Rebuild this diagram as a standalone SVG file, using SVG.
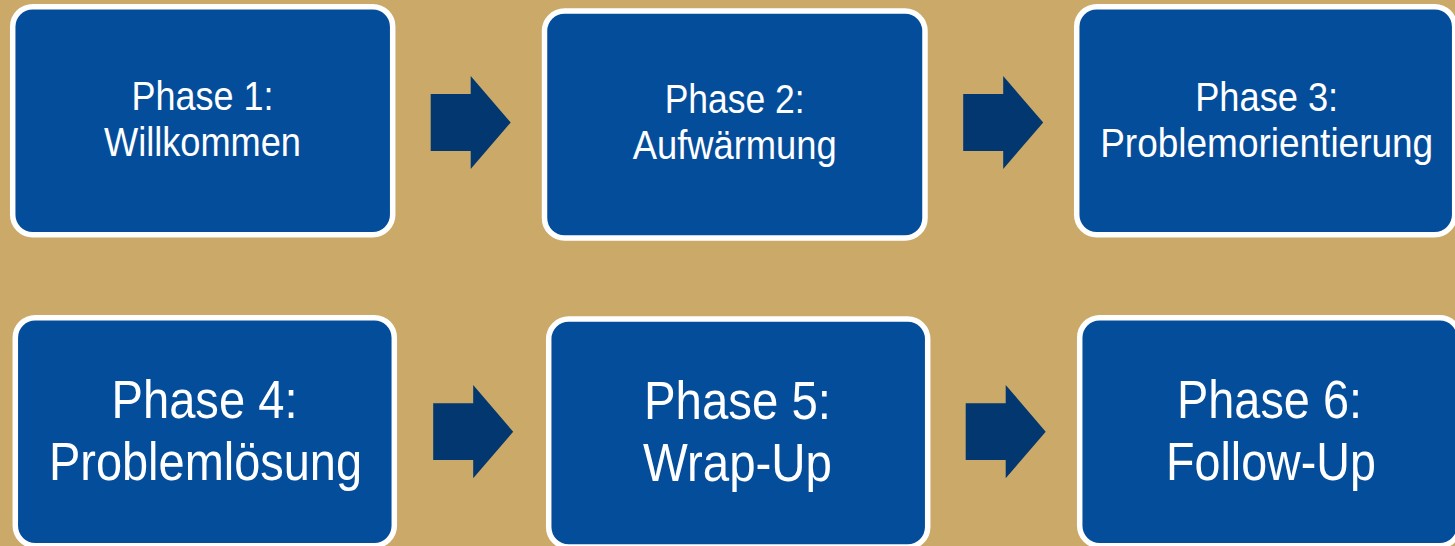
<svg xmlns="http://www.w3.org/2000/svg" width="1455" height="546" viewBox="0 0 1455 546">
<style>
.box{fill:#044D9B;stroke:#FFFFFF;stroke-width:5.5}
.t1{font-family:"Liberation Sans",Arial,sans-serif;font-size:41px;fill:#FFFFFF;text-anchor:middle}
.t2{font-family:"Liberation Sans",Arial,sans-serif;font-size:53px;fill:#FFFFFF;text-anchor:middle}
.arr{fill:#02376F}
</style>
<rect x="0" y="0" width="1455" height="546" fill="#CBA968"/>
<g id="phase1">
<rect class="box" x="12.7" y="6.7" width="380" height="228" rx="20"/>
<text class="t1" x="202.5" y="110" textLength="142" lengthAdjust="spacingAndGlyphs">Phase 1:</text>
<text class="t1" x="202.5" y="156" textLength="197" lengthAdjust="spacingAndGlyphs">Willkommen</text>
</g>
<g id="phase2">
<rect class="box" x="544.5" y="11" width="380.5" height="227" rx="20"/>
<text class="t1" x="734.7" y="113" textLength="140" lengthAdjust="spacingAndGlyphs">Phase 2:</text>
<text class="t1" x="734.7" y="159" textLength="204" lengthAdjust="spacingAndGlyphs">Aufwärmung</text>
</g>
<g id="phase3">
<rect class="box" x="1076.7" y="6.7" width="378" height="228" rx="20"/>
<text class="t1" x="1266.7" y="110.5" textLength="143" lengthAdjust="spacingAndGlyphs">Phase 3:</text>
<text class="t1" x="1266.7" y="157" textLength="333" lengthAdjust="spacingAndGlyphs">Problemorientierung</text>
</g>
<g id="phase4">
<rect class="box" x="15.3" y="317.7" width="379" height="228" rx="20"/>
<text class="t2" x="204.5" y="418" textLength="186" lengthAdjust="spacingAndGlyphs">Phase 4:</text>
<text class="t2" x="205.5" y="480" textLength="313" lengthAdjust="spacingAndGlyphs">Problemlösung</text>
</g>
<g id="phase5">
<rect class="box" x="548.7" y="319" width="379" height="228" rx="20"/>
<text class="t2" x="737.5" y="419" textLength="187" lengthAdjust="spacingAndGlyphs">Phase 5:</text>
<text class="t2" x="737.5" y="481" textLength="189" lengthAdjust="spacingAndGlyphs">Wrap-Up</text>
</g>
<g id="phase6">
<rect class="box" x="1079.7" y="317.7" width="380" height="228" rx="20"/>
<text class="t2" x="1269.5" y="418" textLength="185" lengthAdjust="spacingAndGlyphs">Phase 6:</text>
<text class="t2" x="1271" y="480" textLength="210" lengthAdjust="spacingAndGlyphs">Follow-Up</text>
</g>
<g id="connectors">
<polygon class="arr" points="430.7,94 470.7,94 470.7,76 510.7,122.5 470.7,169 470.7,151 430.7,151"/>
<polygon class="arr" points="963.2,94 1003.2,94 1003.2,76 1043.2,122.5 1003.2,169 1003.2,151 963.2,151"/>
<polygon class="arr" points="433.2,403.3 473.2,403.3 473.2,385 513.2,431.7 473.2,478.3 473.2,460 433.2,460"/>
<polygon class="arr" points="965.7,403.3 1005.7,403.3 1005.7,385 1045.7,431.7 1005.7,478.3 1005.7,460 965.7,460"/>
</g>
</svg>
